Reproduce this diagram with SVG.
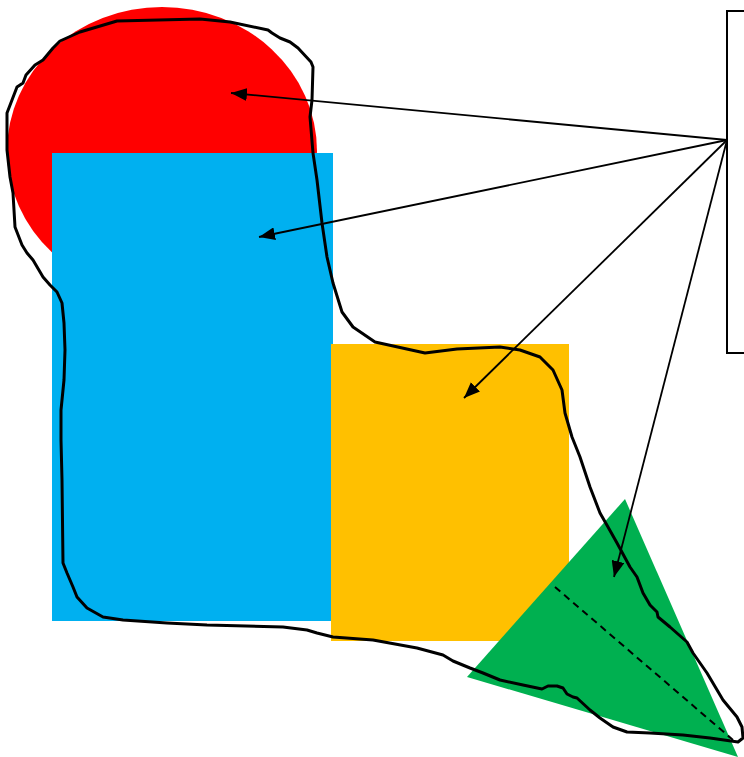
<svg xmlns="http://www.w3.org/2000/svg" width="744" height="757" viewBox="0 0 744 757">
  <style>
    .conn { stroke: #000; stroke-width: 1.8; fill: none; }
    .outline { stroke: #000; stroke-width: 3; fill: none; stroke-linejoin: round; stroke-linecap: round; }
  </style>
  <defs>
    <marker id="ah" markerWidth="17" markerHeight="13" refX="16" refY="6.5" orient="auto" markerUnits="userSpaceOnUse">
      <path d="M0,0 L16,6.5 L0,13 z" fill="#000"/>
    </marker>
  </defs>
  <rect width="744" height="757" fill="#fff"/>
  <g id="circle"><ellipse cx="162" cy="151" rx="155" ry="144" fill="#FF0000"/></g>
  <g id="blue-rect"><rect x="52" y="153" width="281" height="468" fill="#00B0F0"/></g>
  <g id="orange-rect"><rect x="331" y="344" width="238" height="297" fill="#FFC000"/></g>
  <g id="triangle">
    <polygon points="625,499 467,677 738,757" fill="#00B050"/>
    <line x1="555" y1="587" x2="733" y2="740" stroke="#000" stroke-width="2" stroke-dasharray="7,5"/>
  </g>
  <g id="outline">
    <path class="outline" d="M60,41 L80,32 L117,21 L200,19 L230,22 L268,30 L272,33 L280,38 L290,42 L298,48 L311,62 L313,67 L312,100 L310,117 L313,153 L317,180 L322,223 L327,257 L333,283 L342,312 L353,327 L375,342 L425,353 L457,349 L500,347 L520,350 L540,357 L553,370 L562,390 L565,413 L572,437 L580,457 L590,487 L600,513 L608,527 L617,543 L630,567 L637,577 L643,593 L650,605 L657,612 L658,617 L670,627 L687,642 L693,653 L707,673 L723,700 L737,717 L742,727 L743,738 L738,742 L710,738 L683,735 L650,733 L627,732 L613,727 L600,718 L590,710 L577,698 L573,697 L567,694 L563,688 L557,686 L548,686 L542,689 L523,685 L500,680 L483,673 L470,668 L453,661 L443,655 L417,648 L373,640 L333,637 L317,633 L307,630 L283,627 L207,625 L167,623 L123,620 L103,617 L87,608 L77,597 L73,587 L67,573 L63,563 L62,480 L61,440 L61,410 L64,380 L65,350 L64,323 L62,303 L57,292 L50,285 L43,277 L33,260 L27,253 L22,245 L15,227 L13,193 L10,177 L7,150 L7,113 L17,87 L23,83 L26,75 L35,65 L43,60 L53,48 Z"/>
  </g>
  <g id="connectors">
    <line class="conn" x1="727" y1="140" x2="231" y2="93" marker-end="url(#ah)"/>
    <line class="conn" x1="727" y1="140" x2="259" y2="237" marker-end="url(#ah)"/>
    <line class="conn" x1="727" y1="140" x2="464" y2="398" marker-end="url(#ah)"/>
    <line class="conn" x1="727" y1="140" x2="614" y2="577" marker-end="url(#ah)"/>
  </g>
  <g id="box"><rect x="727" y="11" width="40" height="342" fill="#fff" stroke="#000" stroke-width="2"/></g>
</svg>
